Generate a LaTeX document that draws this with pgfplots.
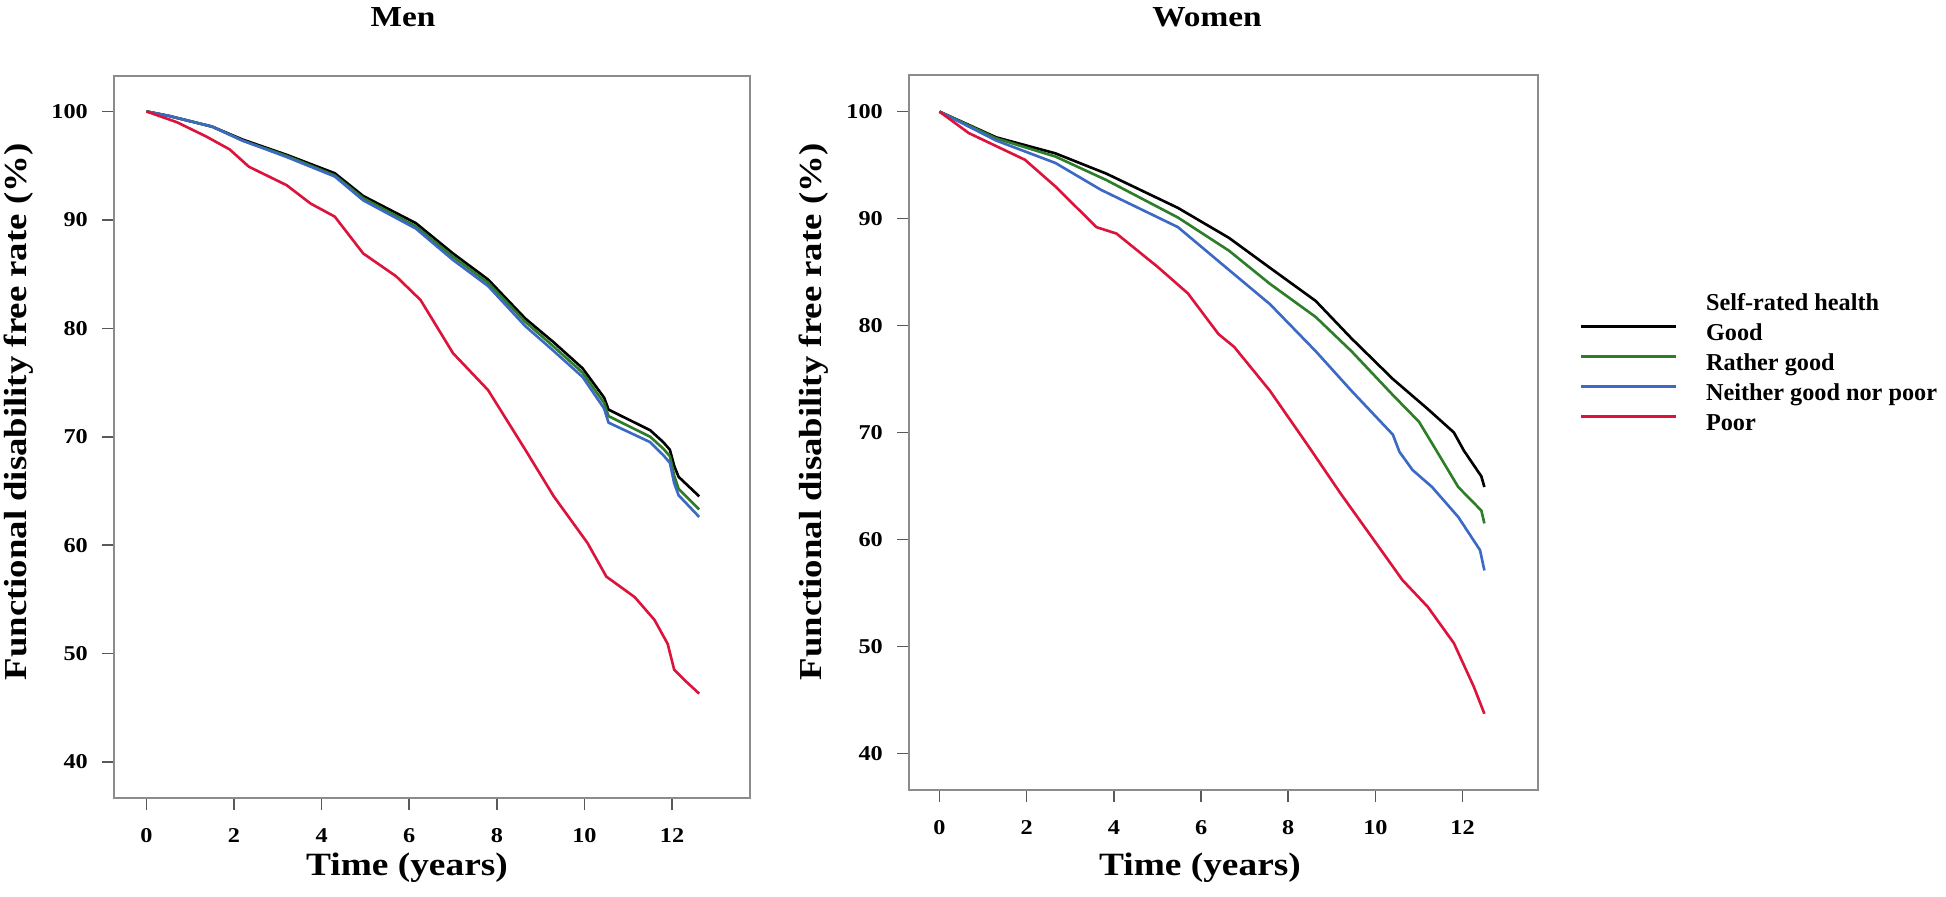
\documentclass[border=0pt]{standalone}
\usepackage{pgfplots}
\pgfplotsset{compat=1.18}
\usepackage{fontspec}
\setmainfont{Liberation Serif}
\newfontfamily\widefont[FakeStretch=1.15]{Liberation Serif}

\definecolor{kmgood}{RGB}{0,0,0}
\definecolor{kmrather}{RGB}{46,125,40}
\definecolor{kmneither}{RGB}{60,105,195}
\definecolor{kmpoor}{RGB}{220,20,60}
\definecolor{framegray}{RGB}{140,140,140}

\pgfplotsset{
  kmframe/.style={
    scale only axis,
    axis line style={framegray, line width=1.5pt},
    tick align=outside,
    xtick pos=bottom, ytick pos=left,
    major tick length=2.4mm,
    tick style={black!65, line width=0.9pt},
    xtick={0,2,...,12}, ytick={40,50,...,100},
    /pgf/number format/assume math mode=true,
    ticklabel style={font=\widefont\bfseries\fontsize{12}{14}\selectfont},
    xticklabel style={yshift=-2.5mm},
    yticklabel style={xshift=-1.6mm},
    every axis plot/.append style={line width=1.5pt, line join=round},
  }
}

\begin{document}
\begin{tikzpicture}
\path[use as bounding box] (0,0) rectangle (389.2mm,179.2mm);

% Men
\begin{axis}[kmframe, at={(22.8mm,19.6mm)}, anchor=south west,
  width=127.2mm, height=144.4mm,
  xmin=-0.74, xmax=13.78, ymin=36.68, ymax=103.27]
\addplot[kmgood] coordinates {
  (0,100) (0.5,99.6) (1.0,99.1) (1.5,98.6) (2.2,97.4) (3.2,96.0) (4.3,94.3)
  (4.95,92.2) (6.15,89.7) (7.0,86.9) (7.8,84.5) (8.65,80.9) (9.3,78.7)
  (9.96,76.3) (10.45,73.6) (10.55,72.5) (11.5,70.6) (11.8,69.5) (11.95,68.8)
  (12.05,67.3) (12.15,66.3) (12.62,64.5)};
\addplot[kmrather] coordinates {
  (0,100) (0.5,99.6) (1.0,99.1) (1.5,98.6) (2.2,97.3) (3.2,95.9) (4.3,94.1)
  (4.95,92.0) (6.15,89.4) (7.0,86.6) (7.8,84.2) (8.65,80.6) (9.3,78.3)
  (9.96,75.9) (10.45,73.1) (10.55,71.9) (11.5,70.0) (11.8,68.9) (11.95,68.2)
  (12.05,66.4) (12.15,65.2) (12.62,63.3)};
\addplot[kmneither] coordinates {
  (0,100) (0.5,99.6) (1.0,99.1) (1.5,98.6) (2.2,97.3) (3.2,95.8) (4.3,94.0)
  (4.95,91.8) (6.15,89.2) (7.0,86.3) (7.8,83.9) (8.65,80.2) (9.3,77.9)
  (9.96,75.5) (10.45,72.6) (10.55,71.3) (11.5,69.5) (11.8,68.3) (11.95,67.6)
  (12.05,65.7) (12.15,64.6) (12.62,62.6)};
\addplot[kmpoor] coordinates {
  (0,100) (0.7,99.0) (1.36,97.7) (1.9,96.5) (2.34,94.9) (3.2,93.2) (3.75,91.5)
  (4.3,90.3) (4.95,86.9) (5.7,84.8) (6.26,82.6) (7.0,77.7) (7.8,74.3)
  (8.65,68.8) (9.3,64.5) (10.07,60.2) (10.5,57.1) (11.15,55.2) (11.6,53.1)
  (11.9,50.9) (12.05,48.5) (12.3,47.5) (12.62,46.3)};
\end{axis}

% Women
\begin{axis}[kmframe, at={(181.8mm,21.2mm)}, anchor=south west,
  width=125.8mm, height=143mm,
  xmin=-0.70, xmax=13.73, ymin=36.57, ymax=103.43,
  legend style={draw=none, fill=none, at={(1.066,0.597)}, anchor=west,
    font=\bfseries\fontsize{13.8}{16}\selectfont, row sep=0pt, inner sep=0pt,
    nodes={inner sep=0.5mm, text height=4.0mm, text depth=1.0mm}},
  legend cell align=left,
  legend image code/.code={\draw[#1, line width=1.5pt] (0mm,1.3mm) -- (19mm,1.3mm);
    \path (24.2mm,1.3mm);}]
\addlegendimage{empty legend}
\addlegendentry{Self-rated health}
\addplot[kmgood] coordinates {
  (0,100) (1.3,97.6) (2.66,96.1) (3.83,94.2) (5.47,91.0) (6.64,88.2)
  (7.58,85.4) (8.63,82.3) (9.45,78.8) (10.4,75.0) (11.2,72.2) (11.8,70.0)
  (12.03,68.3) (12.43,65.9) (12.5,64.9)};
\addlegendentry{Good}
\addplot[kmrather] coordinates {
  (0,100) (1.3,97.5) (2.66,95.8) (3.83,93.6) (5.47,90.1) (6.64,87.0)
  (7.58,83.9) (8.63,80.8) (9.45,77.6) (10.4,73.5) (11.0,71.0) (11.4,68.3)
  (11.9,64.9) (12.43,62.7) (12.5,61.5)};
\addlegendentry{Rather good}
\addplot[kmneither] coordinates {
  (0,100) (1.3,97.3) (2.66,95.2) (3.7,92.7) (5.47,89.2) (6.64,85.2)
  (7.58,82.0) (8.63,77.6) (9.45,73.9) (10.4,69.8) (10.55,68.2) (10.85,66.5)
  (11.3,64.9) (11.9,62.1) (12.4,59.0) (12.5,57.1)};
\addlegendentry{Neither good nor poor}
\addplot[kmpoor] coordinates {
  (0,100) (0.67,98.0) (1.96,95.5) (2.66,93.0) (3.6,89.2) (4.06,88.6)
  (5.0,85.5) (5.7,83.0) (6.4,79.2) (6.76,78.0) (7.58,73.9) (8.5,68.5)
  (9.2,64.3) (9.92,60.2) (10.62,56.2) (11.2,53.7) (11.8,50.3) (12.26,46.2)
  (12.5,43.7)};
\addlegendentry{Poor}
\end{axis}

\node[font=\widefont\bfseries\fontsize{16.5}{19}\selectfont] at (80.6mm,175.8mm) {Men};
\node[font=\widefont\bfseries\fontsize{16.5}{19}\selectfont] at (241.4mm,175.8mm) {Women};
\node[font=\widefont\bfseries\fontsize{18.5}{22}\selectfont] at (81.4mm,5.6mm) {Time (years)};
\node[font=\widefont\bfseries\fontsize{18.5}{22}\selectfont] at (240mm,5.6mm) {Time (years)};
\node[rotate=90, font=\widefont\bfseries\fontsize{18.2}{22}\selectfont] at (3.8mm,96.8mm) {Functional disability free rate (\%)};
\node[rotate=90, font=\widefont\bfseries\fontsize{18.2}{22}\selectfont] at (162.8mm,96.8mm) {Functional disability free rate (\%)};
\end{tikzpicture}
\end{document}
